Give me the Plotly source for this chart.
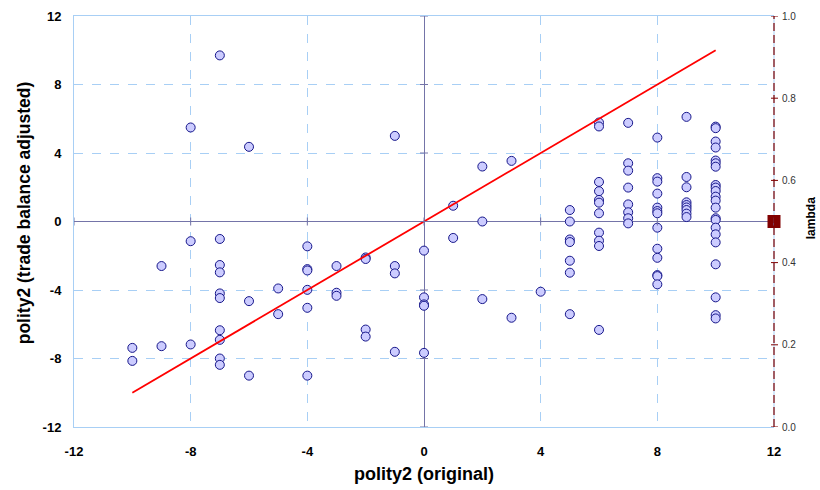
import plotly.graph_objects as go

# polity2 score (original) and the trade-balance adjusted score, one entry per country
polity_original = (
    [-10] * 2 + [-9] * 2 + [-8] * 3 + [-7] * 10 + [-6] * 3 + [-5] * 2 + [-4] * 6
    + [-3] * 3 + [-2] * 4 + [-1] * 4 + [0] * 5 + [1] * 2 + [2] * 3 + [3] * 2 + [4] * 1
    + [5] * 7 + [6] * 11 + [7] * 8 + [8] * 13 + [9] * 9 + [10] * 22
)
polity_adjusted = [
    -7.38, -8.14,
    -2.60, -7.28,
    5.49, -1.15, -7.18,
    9.70, -1.02, -2.54, -2.97, -4.20, -4.47, -6.35, -6.91, -8.00, -8.37,
    4.36, -4.65, -9.00,
    -3.91, -5.41,
    -1.45, -2.78, -2.86, -3.99, -5.04, -9.00,
    -2.60, -4.16, -4.34,
    -2.10, -2.19, -6.31, -6.72,
    5.00, -2.60, -3.03, -7.61,
    -1.70, -4.43, -4.84, -4.92, -7.67,
    0.92, -0.96,
    3.21, 0.00, -4.53,
    3.54, -5.62,
    -4.10,
    0.67, 0.00, -1.05, -1.20, -2.29, -2.99, -5.41,
    5.78, 5.55, 2.31, 1.77, 1.26, 1.10, 0.48, -0.65, -1.12, -1.43, -6.33,
    5.76, 3.40, 2.97, 1.98, 1.00, 0.54, 0.19, -0.11,
    4.90, 2.53, 2.33, 1.63, 0.81, 0.61, 0.48, -0.36, -1.59, -2.12, -3.13, -3.19, -3.67,
    6.11, 2.60, 2.00, 1.12, 0.96, 0.82, 0.67, 0.46, 0.26,
    5.54, 5.45, 4.67, 4.32, 3.56, 3.40, 3.20, 2.13, 1.98, 1.78, 1.45, 1.22, 0.81,
    0.19, 0.09, -0.36, -0.75, -1.22, -2.50, -4.43, -5.47, -5.66,
]

# 45-degree reference line (adjusted == original)
diag_x = [-10, 10]
diag_y = [-10, 10]

# lambda weight shown on the secondary axis
lambda_value = 0.5
lambda_x = 12

axis_ticks = [-12, -8, -4, 0, 4, 8, 12]
axis_tick_text = [str(t) for t in axis_ticks]
lambda_ticks = [0.0, 0.2, 0.4, 0.6, 0.8, 1.0]

FONT = "Arial, Liberation Sans, sans-serif"
GRID = "#a8cff5"
ZERO = "#7474a8"
DARKRED = "#800000"

fig = go.Figure()

fig.add_trace(go.Scatter(
    x=polity_original, y=polity_adjusted, mode="markers",
    marker=dict(symbol="circle", size=9, color="#ccccff",
                line=dict(color="#16168a", width=1)),
    showlegend=False,
))

fig.add_trace(go.Scatter(
    x=diag_x, y=diag_y, mode="lines",
    line=dict(color="#ff0000", width=1.8),
    showlegend=False,
))

fig.add_trace(go.Scatter(
    x=[lambda_x], y=[lambda_value], mode="markers", yaxis="y2",
    marker=dict(symbol="square", size=13, color=DARKRED),
    cliponaxis=False, showlegend=False,
))

shapes = []
# short cross ticks along the two zero lines
for t in axis_ticks:
    shapes.append(dict(type="line", xref="x", yref="y", x0=t, x1=t,
                       ysizemode="pixel", yanchor=0, y0=-4, y1=4,
                       line=dict(color=ZERO, width=1)))
    shapes.append(dict(type="line", xref="x", yref="y", y0=t, y1=t,
                       xsizemode="pixel", xanchor=0, x0=-4, x1=4,
                       line=dict(color=ZERO, width=1)))
# right border: light blue frame edge under a dashed dark-red lambda axis with cross ticks
shapes.append(dict(type="line", xref="paper", yref="paper", x0=1, x1=1, y0=0, y1=1,
                   layer="below", line=dict(color=GRID, width=1)))
shapes.append(dict(type="line", xref="paper", yref="paper", x0=1, x1=1, y0=0, y1=1,
                   line=dict(color=DARKRED, width=1.2, dash="8px,4px")))
for v in lambda_ticks:
    shapes.append(dict(type="line", xref="paper", yref="y2", y0=v, y1=v,
                       xsizemode="pixel", xanchor=1, x0=-3, x1=4,
                       line=dict(color=DARKRED, width=1)))

annotations = [
    dict(text="polity2 (original)", xref="paper", yref="paper", x=0.5, y=0,
         yshift=-47, xanchor="center", yanchor="middle", showarrow=False,
         font=dict(size=18, weight="bold", color="black")),
    dict(text="polity2 (trade balance adjusted)", xref="paper", yref="paper",
         x=0, y=0.52, xshift=-50, xanchor="center", yanchor="middle",
         textangle=-90, showarrow=False,
         font=dict(size=17.5, weight="bold", color="black")),
    dict(text="lambda", xref="paper", yref="paper", x=1, y=0.508, xshift=37,
         xanchor="center", yanchor="middle", textangle=-90, showarrow=False,
         font=dict(size=12, weight="bold", color="black")),
]

fig.update_layout(
    width=820, height=490,
    margin=dict(l=74, r=46, t=16, b=63, autoexpand=False),
    paper_bgcolor="white", plot_bgcolor="white",
    font=dict(family=FONT, color="black"),
    shapes=shapes,
    annotations=annotations,
    xaxis=dict(
        range=[-12, 12], tickvals=axis_ticks, ticktext=axis_tick_text,
        ticks="", automargin=False,
        showgrid=True, gridcolor=GRID, griddash="dash", gridwidth=1,
        zeroline=True, zerolinecolor=ZERO, zerolinewidth=1,
        showline=True, linecolor=GRID, linewidth=1, mirror=True,
        tickfont=dict(size=13, weight="bold"), ticklabelstandoff=12,
    ),
    yaxis=dict(
        range=[-12, 12], tickvals=axis_ticks, ticktext=axis_tick_text,
        ticks="", automargin=False,
        showgrid=True, gridcolor=GRID, griddash="dash", gridwidth=1,
        zeroline=True, zerolinecolor=ZERO, zerolinewidth=1,
        showline=True, linecolor=GRID, linewidth=1, mirror=False,
        tickfont=dict(size=13, weight="bold"), ticklabelstandoff=9,
    ),
    yaxis2=dict(
        overlaying="y", side="right", range=[0, 1], automargin=False,
        tickvals=lambda_ticks, ticktext=[f"{v:.1f}" for v in lambda_ticks],
        ticks="", ticklabelstandoff=7,
        showgrid=False, zeroline=False, showline=False,
        tickfont=dict(size=10, color="#333333"),
    ),
)

fig.write_html("out.html")
